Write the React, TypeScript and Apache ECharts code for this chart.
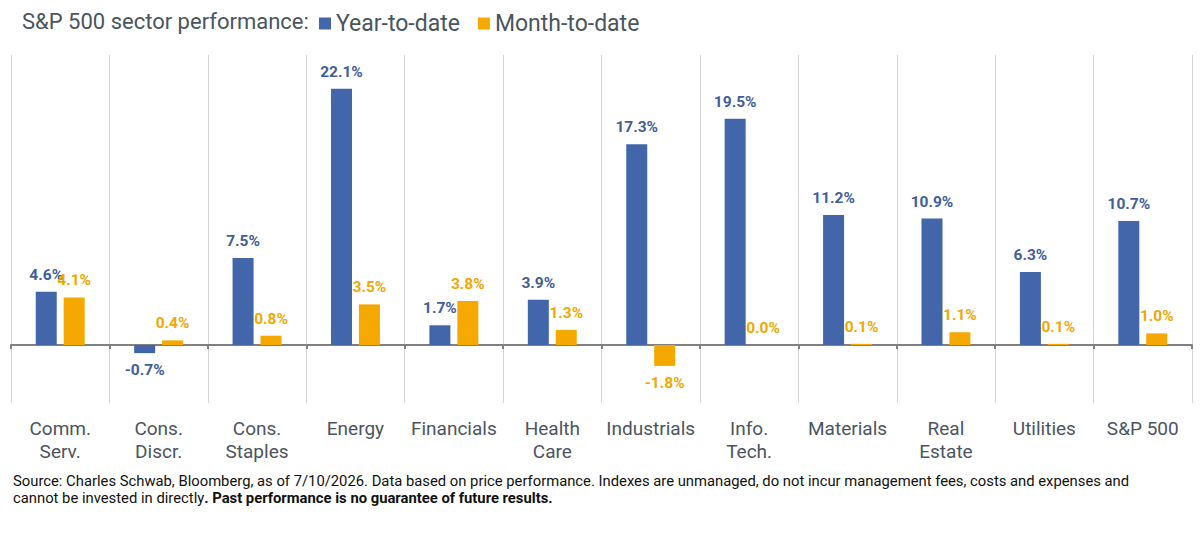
import React, { useEffect, useRef } from "react";
import * as echarts from "echarts";

const categories = [
  "Comm.\nServ.",
  "Cons.\nDiscr.",
  "Cons.\nStaples",
  "Energy",
  "Financials",
  "Health\nCare",
  "Industrials",
  "Info.\nTech.",
  "Materials",
  "Real\nEstate",
  "Utilities",
  "S&P 500",
];
const yearToDate = [4.6, -0.7, 7.5, 22.1, 1.7, 3.9, 17.3, 19.5, 11.2, 10.9, 6.3, 10.7];
const monthToDate = [4.1, 0.4, 0.8, 3.5, 3.8, 1.3, -1.8, 0.0, 0.1, 1.1, 0.1, 1.0];

const BLUE = "#4266a9";
const ORANGE = "#f5a800";
const BLUE_LABEL = "#3f5e9b";
const ORANGE_LABEL = "#f0a800";
const FONT = "Roboto, 'Open Sans', sans-serif";

function toData(values: number[]) {
  return values.map((v) => ({
    value: v,
    label: { position: v < 0 ? "bottom" : "top" },
  }));
}

export default function App() {
  const ref = useRef<HTMLDivElement>(null);
  useEffect(() => {
    if (!ref.current) return;
    const chart = echarts.init(ref.current, undefined, { renderer: "svg" });
    const labelFmt = (p: any) => Number(p.value).toFixed(1) + "%";
    const barLabel = (color: string) => ({
      show: true,
      formatter: labelFmt,
      fontSize: 15.5,
      fontWeight: "bold",
      color,
      fontFamily: FONT,
      distance: 9,
    });
    chart.setOption({
      animation: false,
      backgroundColor: "#ffffff",
      textStyle: { fontFamily: FONT },
      title: {
        text: "S&P 500 sector performance:",
        left: 17,
        top: 5,
        textStyle: { fontSize: 22, fontWeight: "normal", color: "#4a5560", fontFamily: FONT },
      },
      legend: {
        left: 314,
        top: 7,
        icon: "rect",
        itemWidth: 12,
        itemHeight: 12,
        itemGap: 18,
        textStyle: { fontSize: 23, color: "#4a5560", fontFamily: FONT },
        data: ["Year-to-date", "Month-to-date"],
      },
      grid: { left: 11, right: 8, top: 55, bottom: 131 },
      xAxis: [
        {
          type: "category",
          data: categories,
          axisLine: { onZero: true, lineStyle: { color: "#808080", width: 2 } },
          axisTick: { show: true, length: 4, lineStyle: { color: "#808080", width: 2 } },
          axisLabel: { show: false },
          splitLine: { show: true, lineStyle: { color: "#d3d3d3", width: 1 } },
        },
        {
          type: "category",
          data: categories,
          position: "bottom",
          axisLine: { show: false, onZero: false },
          axisTick: { show: false },
          splitLine: { show: false },
          axisLabel: {
            show: true,
            interval: 0,
            margin: 14,
            fontSize: 19,
            lineHeight: 23,
            color: "#4b5561",
            fontFamily: FONT,
            align: "center",
          },
        },
      ],
      yAxis: {
        type: "value",
        min: -5,
        max: 25,
        show: false,
        splitLine: { show: false },
      },
      series: [
        {
          name: "Year-to-date",
          type: "bar",
          xAxisIndex: 0,
          data: toData(yearToDate),
          barWidth: 21,
          barGap: "33%",
          itemStyle: { color: BLUE },
          label: barLabel(BLUE_LABEL),
        },
        {
          name: "Month-to-date",
          type: "bar",
          xAxisIndex: 0,
          data: toData(monthToDate),
          barWidth: 21,
          barGap: "33%",
          itemStyle: { color: ORANGE },
          label: barLabel(ORANGE_LABEL),
        },
      ],
      graphic: [
        {
          type: "text",
          left: 13,
          top: 472.5,
          style: {
            text:
              "Source: Charles Schwab, Bloomberg, as of 7/10/2026. Data based on price performance. Indexes are unmanaged, do not incur management fees, costs and expenses and\n" +
              "cannot be invested in directly{b|. Past performance is no guarantee of future results.}",
            fontSize: 14.8,
            lineHeight: 17,
            fill: "#111111",
            fontFamily: FONT,
            rich: {
              b: { fontSize: 14.8, fontWeight: "bold", fill: "#111111", fontFamily: FONT, lineHeight: 17 },
            },
          },
        },
      ],
    });
    return () => chart.dispose();
  }, []);
  return (
    <div
      ref={ref}
      style={{ position: "fixed", left: 0, top: 0, width: 1200, height: 534, background: "#fff" }}
    />
  );
}
